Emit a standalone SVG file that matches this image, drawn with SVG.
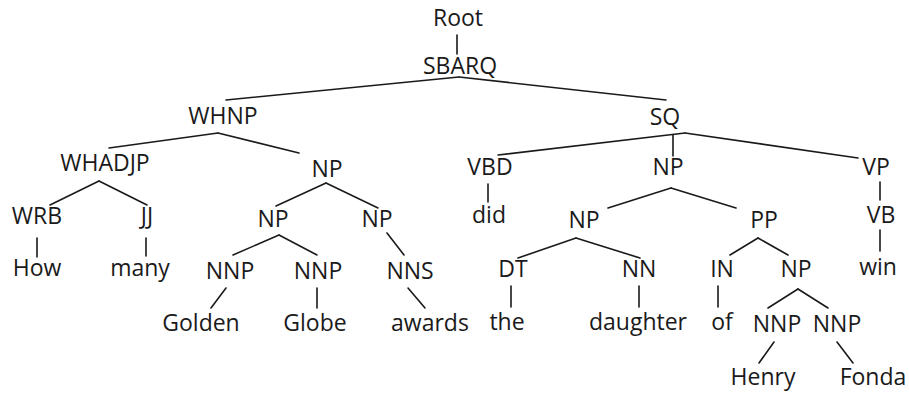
<svg xmlns="http://www.w3.org/2000/svg" width="909" height="395" viewBox="0 0 909 395">
<style>
text{font-family:"Open Sans","Liberation Sans",sans-serif;font-size:23px;fill:#1a1a1a;text-anchor:middle}
#edges line{stroke:#1a1a1a;stroke-width:1.6;stroke-linecap:round}
</style>
<rect width="909" height="395" fill="#fff"/>
<g id="edges">
<line x1="457" y1="35" x2="457" y2="54"/>
<line x1="459" y1="77" x2="226" y2="100"/>
<line x1="459" y1="77" x2="666" y2="100"/>
<line x1="218" y1="133" x2="109" y2="148"/>
<line x1="218" y1="133" x2="299" y2="153"/>
<line x1="685" y1="133" x2="498" y2="155"/>
<line x1="673" y1="135" x2="673" y2="156"/>
<line x1="685" y1="133" x2="858" y2="158"/>
<line x1="99" y1="181" x2="50" y2="205"/>
<line x1="99" y1="181" x2="147" y2="205"/>
<line x1="326" y1="183" x2="276" y2="206"/>
<line x1="326" y1="183" x2="378" y2="208"/>
<line x1="488" y1="184" x2="488" y2="202"/>
<line x1="671" y1="188" x2="608" y2="208"/>
<line x1="671" y1="188" x2="736" y2="208"/>
<line x1="880" y1="182" x2="880" y2="200"/>
<line x1="37" y1="238" x2="37" y2="257"/>
<line x1="146" y1="238" x2="146" y2="256"/>
<line x1="279" y1="235" x2="233" y2="255"/>
<line x1="279" y1="235" x2="317" y2="255"/>
<line x1="387" y1="233" x2="404" y2="255"/>
<line x1="880" y1="230" x2="880" y2="251"/>
<line x1="576" y1="238" x2="518" y2="258"/>
<line x1="576" y1="238" x2="640" y2="258"/>
<line x1="758" y1="238" x2="730" y2="255"/>
<line x1="758" y1="238" x2="788" y2="255"/>
<line x1="226" y1="288" x2="211" y2="308"/>
<line x1="317" y1="288" x2="317" y2="308"/>
<line x1="408" y1="288" x2="425" y2="308"/>
<line x1="511" y1="286" x2="511" y2="307"/>
<line x1="639" y1="286" x2="639" y2="307"/>
<line x1="718" y1="286" x2="718" y2="307"/>
<line x1="798" y1="289" x2="768" y2="308"/>
<line x1="798" y1="289" x2="828" y2="308"/>
<line x1="774" y1="342" x2="759" y2="363"/>
<line x1="837" y1="342" x2="853" y2="363"/>
</g>
<g id="n-root"><text x="458" y="26">Root</text></g>
<g id="n-sbarq"><text x="460" y="74">SBARQ</text></g>
<g id="n-whnp"><text x="223" y="124">WHNP</text></g>
<g id="n-sq"><text x="665" y="125">SQ</text></g>
<g id="n-whadjp"><text x="105" y="171">WHADJP</text></g>
<g id="n-np1"><text x="327" y="177">NP</text></g>
<g id="n-vbd"><text x="490" y="175">VBD</text></g>
<g id="n-np2"><text x="668" y="175">NP</text></g>
<g id="n-vp"><text x="876" y="175">VP</text></g>
<g id="n-wrb"><text x="37" y="224">WRB</text></g>
<g id="n-jj"><text x="147" y="224">JJ</text></g>
<g id="n-np3"><text x="273" y="227">NP</text></g>
<g id="n-np4"><text x="377" y="227">NP</text></g>
<g id="n-did"><text x="489" y="223">did</text></g>
<g id="n-np5"><text x="584" y="228">NP</text></g>
<g id="n-pp"><text x="764" y="228">PP</text></g>
<g id="n-vb"><text x="881" y="223">VB</text></g>
<g id="n-how"><text x="37" y="276">How</text></g>
<g id="n-many"><text x="140" y="276">many</text></g>
<g id="n-nnp1"><text x="230" y="279">NNP</text></g>
<g id="n-nnp2"><text x="318" y="279">NNP</text></g>
<g id="n-nns"><text x="410" y="279">NNS</text></g>
<g id="n-win"><text x="878" y="275">win</text></g>
<g id="n-dt"><text x="513" y="277">DT</text></g>
<g id="n-nn"><text x="639" y="277">NN</text></g>
<g id="n-in"><text x="722" y="277">IN</text></g>
<g id="n-np6"><text x="796" y="277">NP</text></g>
<g id="n-golden"><text x="201" y="331">Golden</text></g>
<g id="n-globe"><text x="315" y="331">Globe</text></g>
<g id="n-awards"><text x="430" y="331">awards</text></g>
<g id="n-the"><text x="507" y="330">the</text></g>
<g id="n-daughter"><text x="638" y="330">daughter</text></g>
<g id="n-of"><text x="722" y="330">of</text></g>
<g id="n-nnp3"><text x="777" y="332">NNP</text></g>
<g id="n-nnp4"><text x="837" y="332">NNP</text></g>
<g id="n-henry"><text x="763" y="385">Henry</text></g>
<g id="n-fonda"><text x="873" y="385">Fonda</text></g>
</svg>
